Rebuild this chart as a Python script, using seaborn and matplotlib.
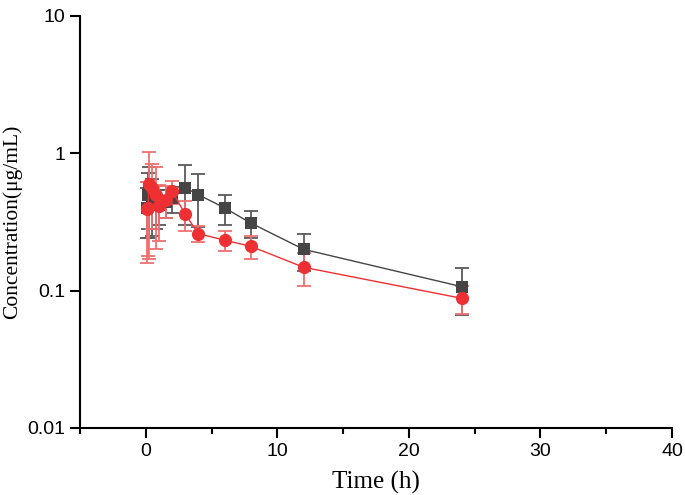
import numpy as np
import pandas as pd
import seaborn as sns
import matplotlib.pyplot as plt
from matplotlib.ticker import FixedLocator, NullLocator, FixedFormatter

# sampling times (h)
time_h = [0.083, 0.167, 0.25, 0.5, 0.75, 1, 1.5, 2, 3, 4, 6, 8, 12, 24]

# gray series (squares): mean and SD
gray_mean = [0.40, 0.50, 0.52, 0.45, 0.43, 0.42, 0.44, 0.47, 0.56, 0.50, 0.40, 0.31, 0.20, 0.107]
gray_sd = [0.16, 0.22, 0.28, 0.20, 0.15, 0.12, 0.10, 0.10, 0.26, 0.21, 0.10, 0.07, 0.06, 0.04]

# red series (circles): mean and SD
red_mean = [0.39, 0.40, 0.60, 0.56, 0.50, 0.41, 0.46, 0.53, 0.36, 0.26, 0.233, 0.21, 0.148, 0.088]
red_sd = [0.23, 0.22, 0.43, 0.28, 0.30, 0.18, 0.12, 0.10, 0.09, 0.035, 0.037, 0.04, 0.04, 0.02]

df = pd.DataFrame({
    "time": time_h * 2,
    "conc": gray_mean + red_mean,
    "sd": gray_sd + red_sd,
    "group": ["gray"] * len(time_h) + ["red"] * len(time_h),
})

sns.set_style("ticks")
colors = {"gray": "#454545", "red": "#ee3033"}
bar_colors = {"gray": "#5a5a5a", "red": "#f07070"}
sizes = {"gray": 8.5, "red": 9.5}
markers = {"gray": "s", "red": "o"}

fig = plt.figure(figsize=(6.85, 4.95), dpi=100)
ax = fig.add_axes([0.1168, 0.1354, 0.8642, 0.8323])

# error bars first, then lines with markers on top
for g in ["gray", "red"]:
    sub = df[df["group"] == g]
    ax.errorbar(sub["time"], sub["conc"], yerr=sub["sd"], fmt="none",
                ecolor=bar_colors[g], elinewidth=1.3, capsize=5, capthick=1.3,
                zorder=2)
    sns.lineplot(data=sub, x="time", y="conc", color=colors[g],
                 marker=markers[g], markersize=sizes[g], markeredgewidth=0,
                 linewidth=1.0, legend=False, ax=ax, zorder=3)

ax.set_yscale("log")
ax.set_ylim(0.01, 10)
ax.set_xlim(-5, 40)
ax.yaxis.set_major_locator(FixedLocator([0.01, 0.1, 1, 10]))
ax.yaxis.set_major_formatter(FixedFormatter(["0.01", "0.1", "1", "10"]))
ax.yaxis.set_minor_locator(NullLocator())
ax.set_xticks([0, 10, 20, 30, 40])
ax.set_xticks([-5, 5, 15, 25, 35], minor=True)

for s in ["top", "right"]:
    ax.spines[s].set_visible(False)
for s in ["left", "bottom"]:
    ax.spines[s].set_linewidth(1.5)
    ax.spines[s].set_color("black")

ax.tick_params(axis="both", which="major", direction="out", length=7, width=1.5,
               labelsize=14, colors="black")
ax.tick_params(axis="x", which="minor", direction="out", length=4, width=1.5,
               colors="black")
for lab in ax.get_xticklabels() + ax.get_yticklabels():
    lab.set_fontfamily("Liberation Sans")

ax.set_xlabel("Time (h)", fontfamily="Liberation Serif", fontsize=18,
              labelpad=8, color="black")
ax.set_ylabel("Concentration(μg/mL)", fontfamily="Liberation Serif", fontsize=15.5,
              labelpad=4, color="black")

fig.savefig("out.png", dpi=100)
